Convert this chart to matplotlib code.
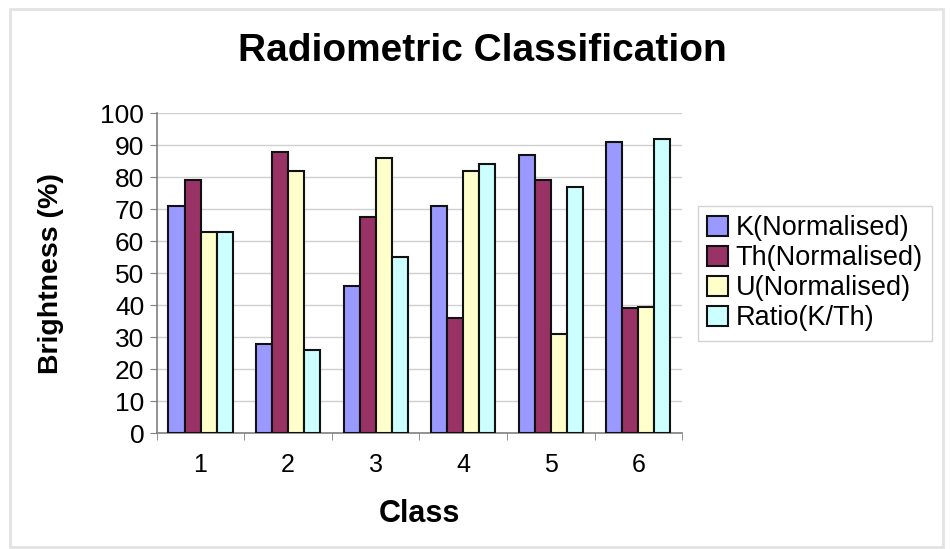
import matplotlib.pyplot as plt
import numpy as np
from matplotlib.patches import Rectangle

plt.rcParams['font.family'] = ['Liberation Sans', 'DejaVu Sans']

classes = ['1', '2', '3', '4', '5', '6']
k_norm = [71, 28, 46, 71, 87, 91]
th_norm = [79, 88, 67.5, 36, 79, 39]
u_norm = [63, 82, 86, 82, 31, 39.5]
ratio_kth = [63, 26, 55, 84, 77, 92]

series = [
    ('K(Normalised)', k_norm, '#9999FF'),
    ('Th(Normalised)', th_norm, '#993366'),
    ('U(Normalised)', u_norm, '#FFFFCC'),
    ('Ratio(K/Th)', ratio_kth, '#CCFFFF'),
]

fig = plt.figure(figsize=(9.5, 5.49), dpi=100)
ax = fig.add_axes([0.165, 0.211, 0.553, 0.583])

x = np.arange(len(classes))
w = 0.183
for i, (name, vals, col) in enumerate(series):
    ax.bar(x + (i - 1.5) * w, vals, w, color=col, edgecolor='#111111',
           linewidth=1.5, label=name, zorder=3)

ax.set_xlim(-0.5, len(classes) - 0.5)
ax.set_ylim(0, 100)
ax.set_yticks(range(0, 101, 10))
ax.set_xticks(x)
ax.set_xticklabels(classes)
ax.set_xticks(np.arange(-0.5, len(classes), 1), minor=True)
ax.tick_params(axis='x', which='major', length=0, labelsize=18, pad=14)
ax.tick_params(axis='x', which='minor', length=5, color='#808080', direction='out')
ax.tick_params(axis='y', length=5, color='#808080', labelsize=19, pad=4)

ax.grid(axis='y', color='#d0d0d0', linewidth=1.0, zorder=0)
for s in ['top', 'right']:
    ax.spines[s].set_visible(False)
for s in ['left', 'bottom']:
    ax.spines[s].set_color('#808080')
    ax.spines[s].set_linewidth(1.2)

ax.set_xlabel('Class', fontsize=22, fontweight='bold', labelpad=16)
ax.set_ylabel('Brightness (%)', fontsize=20.5, fontweight='bold', labelpad=26)
fig.suptitle('Radiometric Classification', fontsize=28, fontweight='bold',
             x=0.508, y=0.94)

leg = ax.legend(loc='center left', bbox_to_anchor=(1.03, 0.5), fontsize=19.5,
                frameon=True, fancybox=False, edgecolor='#c8c8c8',
                handlelength=0.75, handleheight=0.75, handletextpad=0.3,
                borderpad=0.35, labelspacing=0.15, borderaxespad=0.0)
leg.get_frame().set_linewidth(1.0)

# faint chart-area border
fig.patches.append(Rectangle((0.011, 0.004), 0.982, 0.98, transform=fig.transFigure,
                             fill=False, edgecolor='#e2e2e2', linewidth=2))

fig.savefig('out.png', dpi=100)
